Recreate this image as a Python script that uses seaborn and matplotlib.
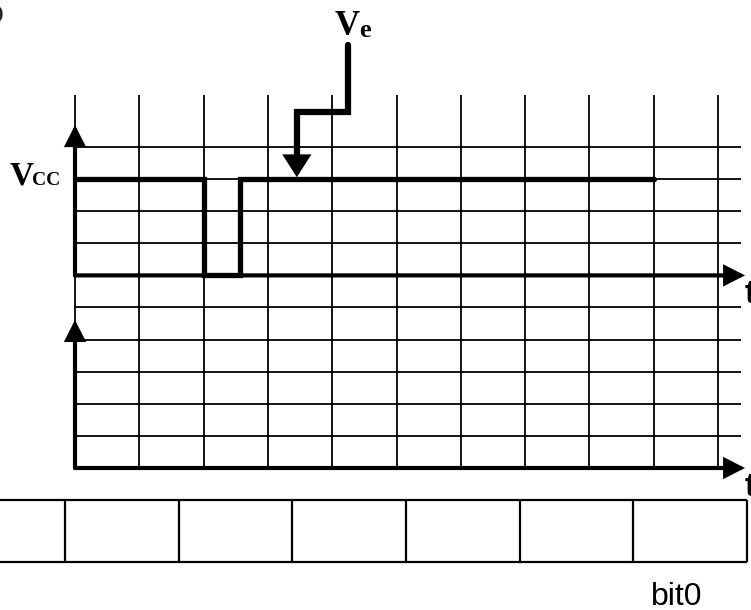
import seaborn as sns
import matplotlib.pyplot as plt

# waveform, in grid units (x: one column per step, y: one row per division)
t_points = [0, 2, 2, 2.56, 2.56, 9]
v_points = [3, 3, 0, 0, 3, 3]

grid_cols = list(range(0, 11))
upper_rows = [1, 2, 3, 4]
lower_rows = [-5, -4, -3, -2, -1]
lower_axis = -6

# pointer from the "Ve" label down to the signal
ve_path_x = [4.25, 4.25, 3.45, 3.45]
ve_path_y = [7.18, 5.09, 5.09, 3.55]

n_bits = 7
bit_label = "bit0"

sns.set_style("white")
fig = plt.figure(figsize=(7.51, 6.10), dpi=100)
ax = fig.add_axes([0, 0, 1, 1])

# pixel scale of one grid cell
px_x, px_y = 64.3, 32.1
x0, y0 = 75, 275.4
ax.set_xlim(-x0 / px_x, (751 - x0) / px_x)
ax.set_ylim(-(610 - y0) / px_y, y0 / px_y)
ax.axis("off")

# grid
ax.vlines(grid_cols, lower_axis, 5.62, color="k", lw=1.3)
ax.hlines(upper_rows + lower_rows, 0, 10.36, color="k", lw=1.3)


def arrow(x1, y1, x2, y2, lw=3, hl=0.55, hw=0.28):
    ax.annotate("", xy=(x2, y2), xytext=(x1, y1),
                arrowprops=dict(arrowstyle=f"-|>,head_length={hl},head_width={hw}",
                                lw=lw, color="k", mutation_scale=20,
                                shrinkA=0, shrinkB=0, joinstyle="miter"))


# axes
arrow(0, 0, 10.42, 0)
arrow(0, 0, 0, 4.68)
arrow(0, lower_axis, 10.42, lower_axis)
arrow(0, lower_axis, 0, -1.39)

# signal
sns.lineplot(x=t_points, y=v_points, sort=False, estimator=None,
             color="k", lw=3.8, ax=ax)
ax.lines[-1].set_solid_joinstyle("miter")

# Ve pointer
ax.plot(ve_path_x, ve_path_y, color="k", lw=4.5, solid_joinstyle="miter")
arrow(ve_path_x[-1], ve_path_y[-1] + 0.1, ve_path_x[-1], 3.06, lw=4.5, hl=0.5, hw=0.32)

# bit table
cell_w = 1.767
right = 10.45
edges = [right - cell_w * k for k in range(n_bits + 1)]
ax.hlines([-7.0, -8.93], edges[-1], right, color="k", lw=1.6)
ax.vlines(edges, -8.93, -7.0, color="k", lw=1.6)

serif = dict(family="Liberation Serif", weight="bold", color="k", va="baseline", ha="left")
sans = dict(family="Liberation Sans", color="k", va="baseline", ha="left")

ax.text(4.04, 7.49, "V", fontsize=25, **serif)
ax.text(4.42, 7.43, "e", fontsize=19, **serif)
ax.text(-1.011, 2.82, "V", fontsize=24, **serif)
ax.text(-0.669, 2.82, "CC", fontsize=14, **serif)
ax.text(-1.104, 7.86, "D", fontsize=20, family="Liberation Serif", weight="bold",
        va="baseline", ha="right")
ax.text(10.42, -0.86, "t", fontsize=24, weight="bold", **sans)
ax.text(10.42, -6.87, "t", fontsize=24, weight="bold", **sans)
ax.text(8.96, -10.27, bit_label, fontsize=23, **sans)

fig.savefig("out.png", dpi=100)
